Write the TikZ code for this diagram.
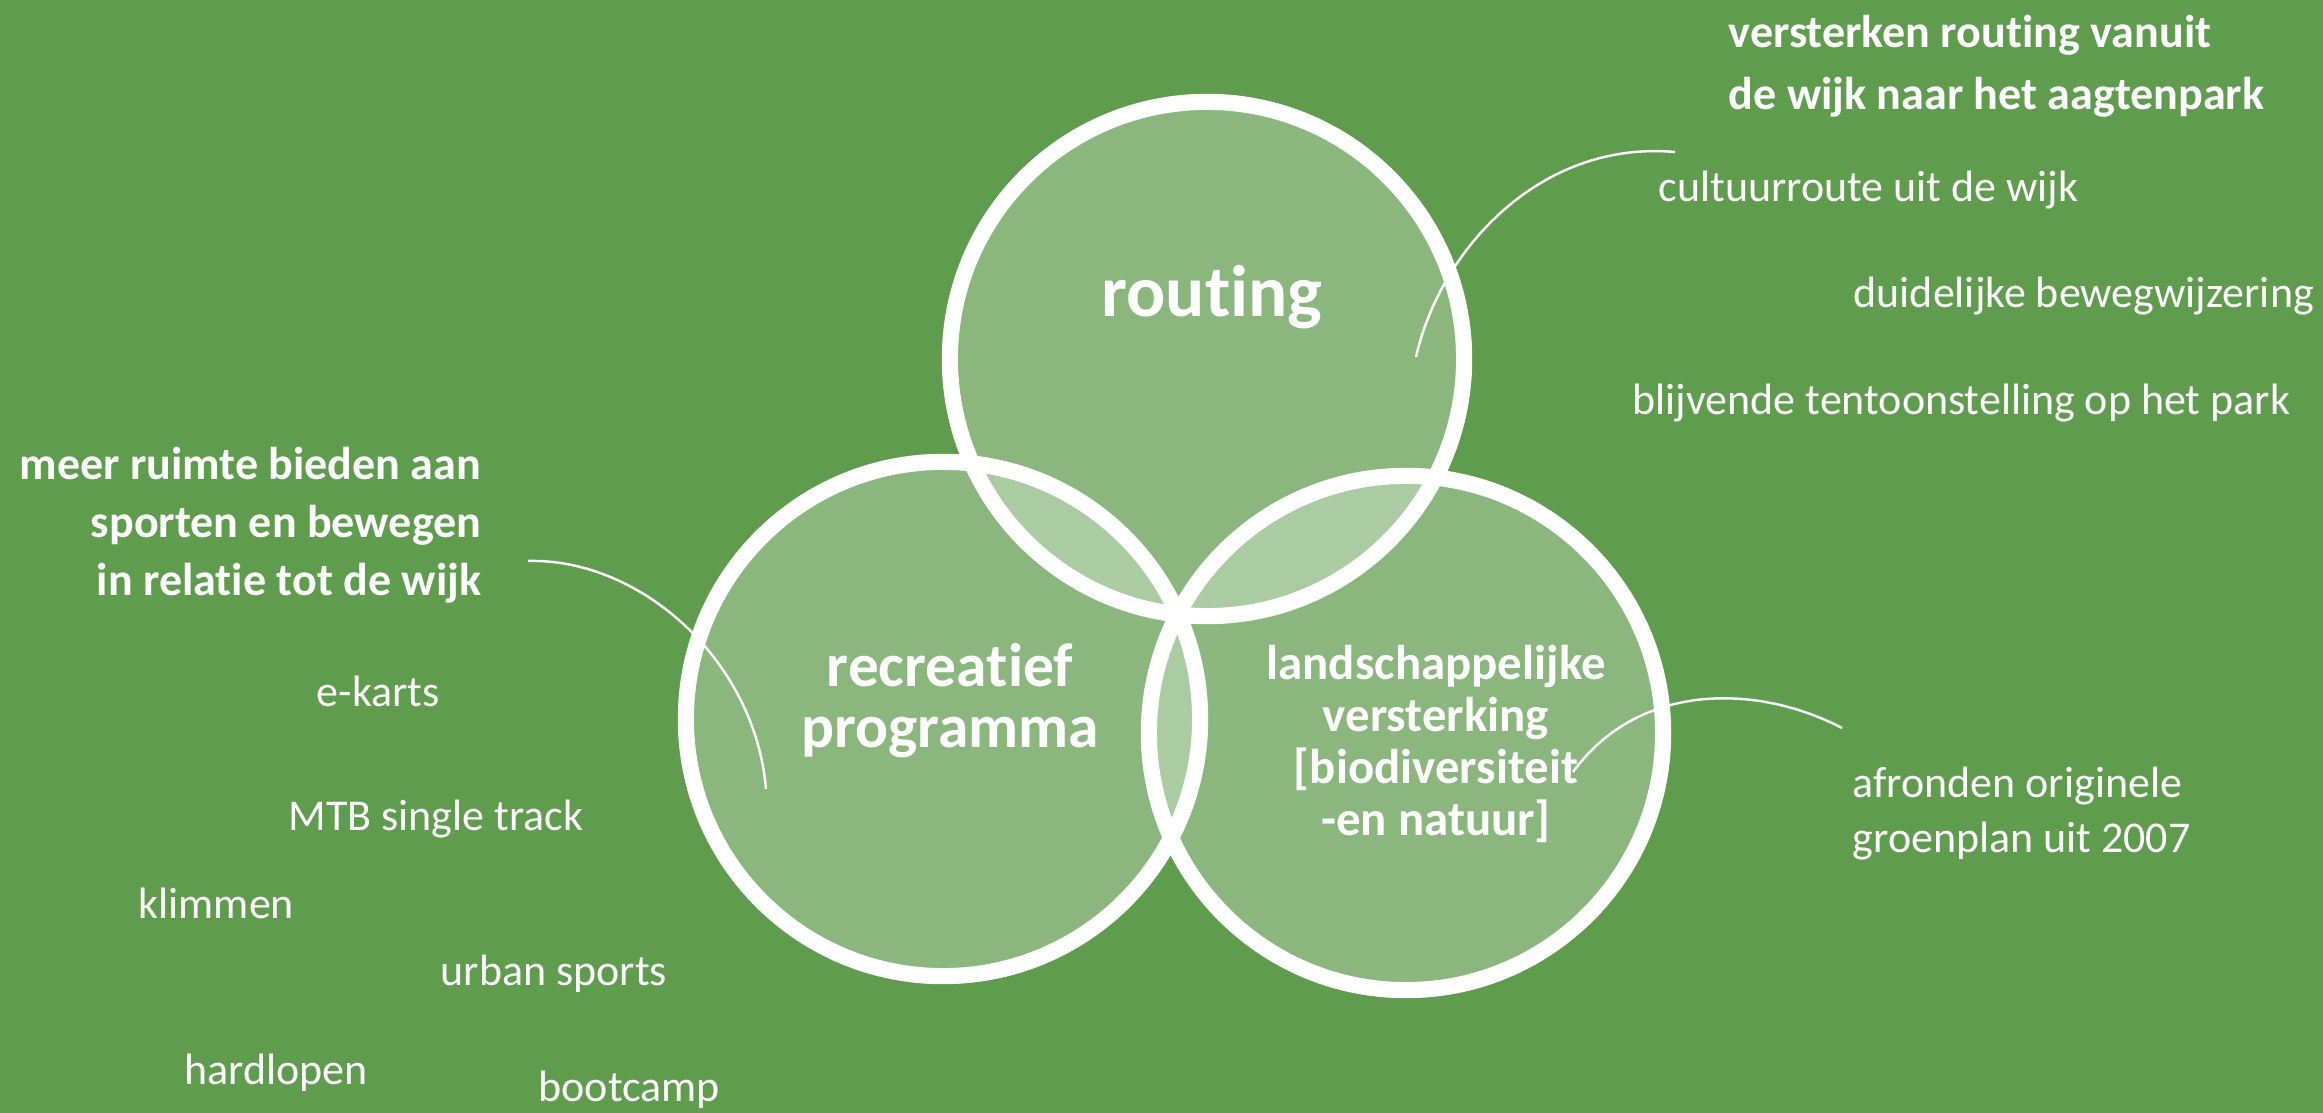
\documentclass[tikz,border=0pt]{standalone}
\usepackage{fontspec}
\setmainfont{Carlito}[Ligatures=NoCommon]

\definecolor{parkgreen}{HTML}{5F9C4E}

\tikzset{
  zone/.style={circle, minimum size=5.14cm, inner sep=0pt, draw=white, line width=4.6pt,
    fill=white, fill opacity=0.28},
  zonetitle/.style={text=white, inner sep=0pt, align=center, anchor=base},
  goal/.style={text=white, inner sep=0pt, font=\bfseries\fontsize{13.1}{17.4}\selectfont},
  item/.style={text=white, inner sep=0pt, anchor=base west, font=\fontsize{12.5}{15.9}\selectfont},
  hook/.style={draw=white, line width=0.7pt}
}

\begin{document}
\begin{tikzpicture}[x=0.01cm, y=-0.01cm]
    \useasboundingbox (0,0) rectangle (2323,1113);
    \fill[parkgreen] (0,0) rectangle (2323,1113);

    % de drie thema's
    \node[zone] (routing) at (1207,359) {};
    \node[zone] (recreatie) at (943,719) {};
    \node[zone] (landschap) at (1406,733) {};

    % (base = laatste regel)
    \node[zonetitle, font=\bfseries\fontsize{20.8}{24}\selectfont] (routingtitle) at (1212,317) {routing};
    \node[zonetitle, font=\bfseries\fontsize{17.5}{17.4}\selectfont] (recreatietitle) at (950,748) {recreatief\\programma};
    \node[zonetitle, font=\bfseries\fontsize{13.9}{14.8}\selectfont] (landschaptitle) at (1436,836)
        {landschappelijke\\versterking\\{[}biodiversiteit\\-en natuur{]}};

    % doelen
    \node[goal, anchor=base west, align=left, font=\bfseries\fontsize{13.1}{17.9}\selectfont] (routinggoal) at (1728,110)
        {versterken routing vanuit\\de wijk naar het aagtenpark};
    \node[goal, anchor=base east, align=right, font=\bfseries\fontsize{13.1}{16.5}\selectfont] (recreatiegoal) at (482,596)
        {meer ruimte bieden aan\\sporten en bewegen\\in relatie tot de wijk};

    % routing
    \node[item] (cultuur) at (1658,202) {cultuurroute uit de wijk};
    \node[item] (bewegwijzering) at (1853,308) {duidelijke bewegwijzering};
    \node[item] (tentoonstelling) at (1632,415) {blijvende tentoonstelling op het park};

    % recreatief programma
    \node[item] (ekarts) at (316,707) {e-karts};
    \node[item] (mtb) at (288,831) {MTB single track};
    \node[item] (klimmen) at (138,919) {klimmen};
    \node[item] (urban) at (440,986) {urban sports};
    \node[item] (hardlopen) at (184,1085) {hardlopen};
    \node[item] (bootcamp) at (538,1102) {bootcamp};

    % landschap
    \node[item, align=left] (groenplan) at (1852,853) {afronden originele\\groenplan uit 2007};

    % lijnen
    \coordinate (routinghook) at (1675,152);
    \coordinate (routingtip) at (1416,357);
    \coordinate (recreatiehook) at (528,561);
    \coordinate (recreatietip) at (766,789);
    \coordinate (landschaphook) at (1842,728);
    \coordinate (landschaptip) at (1573,772);

    \draw[hook] (routinghook) .. controls (1540,140) and (1440,250) .. (routingtip);
    \draw[hook] (recreatiehook) .. controls (640,558) and (755,660) .. (recreatietip);
    \draw[hook] (landschaphook) .. controls (1760,685) and (1640,680) .. (landschaptip);
\end{tikzpicture}
\end{document}
